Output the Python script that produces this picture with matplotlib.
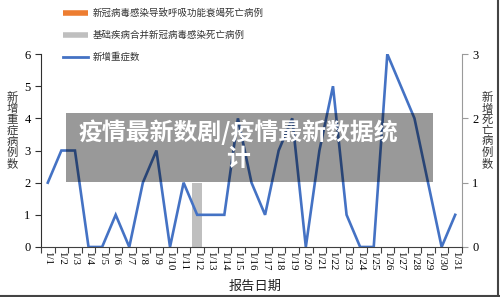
import numpy as np
import matplotlib
matplotlib.use('Agg')
import matplotlib.pyplot as plt
from matplotlib.lines import Line2D
from matplotlib.patches import Rectangle

plt.rcParams['font.family'] = ['Noto Sans CJK SC', 'DejaVu Sans']

# === Data ===
dates = [f"1/{d}" for d in range(1, 32)]
severe_new = [2, 3, 3, 0, 0, 1, 0, 2, 3, 0, 2, 1, 1, 1, 4, 2,
              1, 3, 4, 0, 3, 5, 1, 0, 0, 6, 5, 4, 2, 0, 1]
deaths_resp = [0] * 31
deaths_comorb = [0] * 11 + [1] + [0] * 19

BLUE = '#4472C4'
ORANGE = '#ED7D31'
GRAY = '#BFBFBF'
SERIF = 'Liberation Serif'

fig = plt.figure(figsize=(5, 2.97), dpi=100)
ax = fig.add_axes([0.082, 0.1684, 0.842, 0.6496])
ax2 = ax.twinx()

x = np.arange(len(dates))

# bars on the right axis (death counts), stacked
ax2.bar(x, deaths_resp, width=0.74, color=ORANGE)
ax2.bar(x, deaths_comorb, width=0.74, bottom=deaths_resp, color=GRAY)
ax2.set_ylim(0, 3)
ax2.set_yticks([0, 1, 2, 3])

# line on the left axis (new severe cases), drawn above the bars
ax.set_zorder(ax2.get_zorder() + 1)
ax.patch.set_visible(False)
ax.plot(x, severe_new, color=BLUE, linewidth=1.9, solid_joinstyle='miter')
ax.set_ylim(0, 6)
ax.set_yticks(range(0, 7))
ax.set_xlim(-0.5, len(dates) - 0.5)

# category ticks between dates, labels at the centres
ax.set_xticks(np.arange(-0.5, len(dates)), minor=False)
ax.set_xticklabels([])
ax.set_xticks(x, minor=True)
ax.set_xticklabels(dates, minor=True, rotation=-90, fontfamily=SERIF, fontsize=7.8)
ax.tick_params(axis='x', which='minor', length=0, pad=3)
ax.tick_params(axis='x', which='major', length=4, color='#404040')

for a in (ax, ax2):
    a.spines['top'].set_visible(False)
ax.spines['right'].set_visible(False)
ax2.spines['left'].set_visible(False)
ax2.spines['bottom'].set_visible(False)
ax.spines['left'].set_color('#303030')
ax.spines['bottom'].set_color('#404040')
ax2.spines['right'].set_color('#9A9A9A')

ax.tick_params(axis='y', length=4, color='#303030', labelsize=9)
ax2.tick_params(axis='y', length=4, color='#9A9A9A', labelsize=9)
for lbl in ax.get_yticklabels() + ax2.get_yticklabels():
    lbl.set_fontfamily(SERIF)

# stacked vertical axis titles
fig.text(0.024, 0.56, "\n".join("新增重症病例数"), ha='center', va='center',
         fontsize=8.2, linespacing=1.05, color='#333333')
fig.text(0.974, 0.56, "\n".join("新增死亡病例数"), ha='center', va='center',
         fontsize=8.2, linespacing=1.05, color='#333333')
fig.text(0.51, 0.037, "报告日期", ha='center', va='center', fontsize=9.5, color='#222222')

# legend
handles = [Line2D([], [], color=ORANGE, linewidth=4, solid_capstyle='butt'),
           Line2D([], [], color=GRAY, linewidth=4, solid_capstyle='butt'),
           Line2D([], [], color=BLUE, linewidth=2)]
labels = ["新冠病毒感染导致呼吸功能衰竭死亡病例", "基础疾病合并新冠病毒感染死亡病例", "新增重症数"]
fig.legend(handles, labels, loc='upper left', bbox_to_anchor=(0.118, 0.985),
           frameon=False, fontsize=6.8, handlelength=2.7, handletextpad=0.45,
           labelspacing=1.35, borderaxespad=0, labelcolor='#333333')

# translucent banner with title
fig.add_artist(Rectangle((0.132, 0.387), 0.734, 0.232, transform=fig.transFigure,
                         facecolor='black', alpha=0.4, edgecolor='none', zorder=10))
fig.text(0.476, 0.51, "疫情最新数剧/疫情最新数据统\n计", ha='center', va='center',
         multialignment='center', fontsize=17.2, fontweight='bold', color='white',
         linespacing=1.12, zorder=11)

# frame edge on the bottom and right
fig.add_artist(Line2D([0, 1], [0.004, 0.004], transform=fig.transFigure, color='#444444', linewidth=1.5))
fig.add_artist(Line2D([0.996, 0.996], [0, 1], transform=fig.transFigure, color='#444444', linewidth=1.5))

fig.savefig('out.png', dpi=100)
